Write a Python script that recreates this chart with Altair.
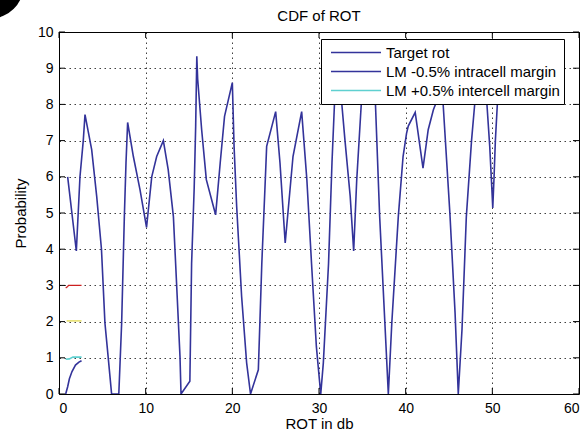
import altair as alt
import pandas as pd

# ---- data ----
target_x = [1.0, 2.0, 2.42, 2.8, 3.0, 3.77, 4.35, 4.9, 5.3, 5.7, 6.07, 6.9, 7.23, 7.54, 7.73, 7.92,
            8.58, 9.35, 10.1, 10.7, 11.27, 12.04, 12.6, 13.2, 13.6, 13.96, 14.08, 15.1, 15.3, 15.6,
            15.77, 15.9, 16.0, 16.46, 17.0, 18.07, 18.6, 19.1, 20.0, 20.2, 20.5, 21.07, 21.65, 22.1,
            23.0, 23.4, 23.8, 23.96, 25.0, 25.5, 26.1, 27.0, 28.0, 28.6, 29.14, 29.7, 30.2, 30.5,
            31.1, 31.5, 31.8, 32.2, 32.6, 33.0, 33.6, 34.0, 34.35, 34.9, 35.7, 36.5, 37.0, 37.6,
            38.0, 38.4, 39.15, 39.7, 40.1, 40.3, 41.1, 42.0, 42.6, 43.2, 43.6, 44.0, 44.3, 45.1,
            45.7, 46.07, 46.5, 47.0, 47.6, 48.0, 48.7, 49.35, 49.7, 49.95, 50.05, 50.2, 50.35,
            50.6, 50.8]
target_y = [6.0, 3.95, 6.0, 7.0, 7.72, 6.75, 5.46, 4.0, 1.96, 0.95, 0.0, 0.0, 1.97, 4.9, 6.38, 7.5,
            6.56, 5.64, 4.6, 6.0, 6.56, 7.0, 6.2, 4.9, 2.88, 1.04, 0.0, 0.35, 3.6, 5.7,
            7.4, 9.33, 8.7, 7.3, 5.92, 4.95, 6.38, 7.67, 8.6, 6.84, 5.18, 2.7, 0.86, 0.0,
            0.67, 3.6, 5.9, 6.84, 7.8, 6.38, 4.17, 6.56, 7.8, 5.92, 3.6, 1.3, 0.0, 0.86,
            3.6, 6.4, 8.1, 8.9, 8.1, 7.0, 5.46, 3.95, 5.9, 8.1, 9.0, 8.1, 4.9, 1.97,
            0.0, 1.96, 4.9, 6.56, 7.2, 7.4, 7.78, 6.24, 7.3, 7.85, 8.1, 8.6, 8.1, 5.0,
            2.24, 0.0, 1.78, 4.9, 7.0, 8.1, 8.8, 8.1, 6.84, 5.64, 5.14, 6.0, 7.0,
            8.1, 8.8]

lm_minus_x = [0.77, 1.0, 1.2, 1.5, 1.9, 2.3, 2.6]
lm_minus_y = [0.0, 0.2, 0.42, 0.62, 0.8, 0.88, 0.92]

lm_plus_x = [0.77, 1.2, 1.6, 2.6]
lm_plus_y = [0.96, 0.97, 1.02, 1.02]

red_x = [0.77, 1.0, 1.1, 2.6]
red_y = [2.93, 2.97, 3.0, 3.0]

yellow_x = [0.88, 2.6]
yellow_y = [2.02, 2.02]

series_names = ["Target rot", "LM -0.5% intracell margin", "LM +0.5% intercell margin"]
series_colors = ["#33339a", "#33339a", "#5fd0d0"]

x_ticks = [0, 10, 20, 30, 40, 50, 60]
y_ticks = [0, 1, 2, 3, 4, 5, 6, 7, 8, 9, 10]

chart_title = "CDF of ROT"
x_title = "ROT in db"
y_title = "Probability"

FONT = "Liberation Sans"
W, H = 520, 362

rows = []
for name, xs, ys in [(series_names[0], target_x, target_y),
                     (series_names[1], lm_minus_x, lm_minus_y),
                     (series_names[2], lm_plus_x, lm_plus_y)]:
    for i, (a, b) in enumerate(zip(xs, ys)):
        rows.append({"series": name, "x": a, "y": b, "i": i})
df = pd.DataFrame(rows)

xscale = alt.Scale(domain=[0, 60], nice=False, zero=False)
yscale = alt.Scale(domain=[0, 10], nice=False, zero=False)

x_axis = alt.Axis(values=x_ticks, title=x_title, tickSize=0, labelPadding=7,
                  titleY=34, titleBaseline="alphabetic")
y_axis = alt.Axis(values=y_ticks, title=y_title, tickSize=0, labelPadding=6,
                  titleX=-39, titleY=H / 2, titleAngle=-90, titleAlign="center",
                  titleBaseline="middle")

lines = alt.Chart(df).mark_line(strokeWidth=1.6, clip=True).encode(
    x=alt.X("x:Q", scale=xscale, axis=x_axis),
    y=alt.Y("y:Q", scale=yscale, axis=y_axis),
    color=alt.Color("series:N", scale=alt.Scale(domain=series_names, range=series_colors),
                    legend=alt.Legend(title=None, orient="none", legendX=262, legendY=7,
                                      fillColor="white", strokeColor="black", padding=4,
                                      symbolType="stroke", symbolSize=2500,
                                      symbolStrokeWidth=1.6, symbolOffset=5,
                                      labelFontSize=15, labelFont=FONT, labelColor="black",
                                      labelLimit=400, labelOffset=4, clipHeight=19,
                                      rowPadding=0, cornerRadius=0)),
    order="i:Q",
)

red_line = alt.Chart(pd.DataFrame({"x": red_x, "y": red_y})).mark_line(
    color="#cc2020", strokeWidth=1.2).encode(
    x=alt.X("x:Q", scale=xscale, axis=x_axis), y=alt.Y("y:Q", scale=yscale, axis=y_axis))
yellow_line = alt.Chart(pd.DataFrame({"x": yellow_x, "y": yellow_y})).mark_line(
    color="#e8e070", strokeWidth=1.6).encode(
    x=alt.X("x:Q", scale=xscale, axis=x_axis), y=alt.Y("y:Q", scale=yscale, axis=y_axis))

xt = pd.DataFrame({"x": x_ticks})
yt = pd.DataFrame({"y": y_ticks})
tick_bottom = alt.Chart(xt).mark_rule(color="black").encode(
    x=alt.X("x:Q", scale=xscale, axis=x_axis), y=alt.value(H), y2=alt.value(H - 6))
tick_top = alt.Chart(xt).mark_rule(color="black").encode(
    x=alt.X("x:Q", scale=xscale, axis=x_axis), y=alt.value(0), y2=alt.value(6))
tick_left = alt.Chart(yt).mark_rule(color="black").encode(
    y=alt.Y("y:Q", scale=yscale, axis=y_axis), x=alt.value(0), x2=alt.value(6))
tick_right = alt.Chart(yt).mark_rule(color="black").encode(
    y=alt.Y("y:Q", scale=yscale, axis=y_axis), x=alt.value(W), x2=alt.value(W - 6))

title_text = alt.Chart(pd.DataFrame({"label": [chart_title]})).mark_text(
    font=FONT, fontSize=15, color="black", align="center", baseline="alphabetic").encode(
    text="label:N", x=alt.value(W / 2), y=alt.value(-11))

corner = alt.Chart(pd.DataFrame({"a": [0]})).mark_circle(
    color="black", opacity=1, size=4536).encode(x=alt.value(-69), y=alt.value(-47))

chart = alt.layer(
    lines, red_line, yellow_line, tick_bottom, tick_top, tick_left, tick_right,
    title_text, corner
).properties(
    width=W, height=H,
    background="white",
    padding={"left": 59, "top": 32, "right": 3, "bottom": 36},
    autosize=alt.AutoSizeParams(type="none"),
).configure_view(
    stroke="black", strokeWidth=1
).configure_axis(
    domain=False, grid=True, gridColor="black", gridDash=[1.5, 3.5], gridOpacity=0.75,
    gridWidth=1, labelFont=FONT, labelFontSize=14, labelColor="black",
    titleFont=FONT, titleFontSize=15, titleFontWeight="normal", titleColor="black"
)

chart.save("out.html", embed_options={"renderer": "svg", "actions": False})
